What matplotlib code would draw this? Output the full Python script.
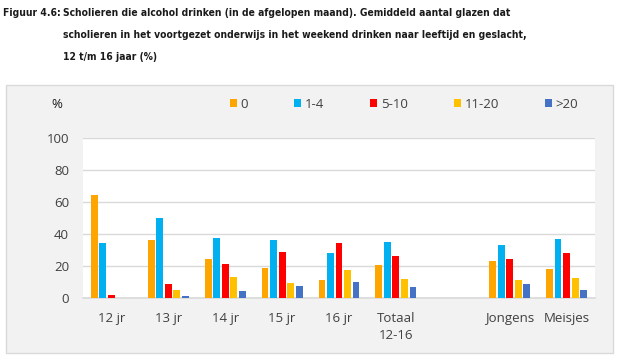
import numpy as np
import matplotlib.pyplot as plt
from matplotlib.patches import Rectangle, Patch

# data
categories = ['12 jr', '13 jr', '14 jr', '15 jr', '16 jr', 'Totaal\n12-16', '', 'Jongens', 'Meisjes']
series = ['0', '1-4', '5-10', '11-20', '>20']
colors = ['#FFA500', '#00B0F0', '#FF0000', '#FFC000', '#4472C4']

v_0 = [64.4, 36.2, 24.5, 18.6, 10.9, 20.7, np.nan, 23.2, 18.0]
v_1_4 = [34.1, 50.2, 37.4, 36.0, 28.0, 34.9, np.nan, 33.3, 36.6]
v_5_10 = [1.5, 8.4, 21.1, 28.5, 34.1, 25.9, np.nan, 24.1, 28.0]
v_11_20 = [0.0, 4.6, 13.2, 9.4, 17.2, 11.7, np.nan, 11.3, 12.6]
v_gt20 = [0.0, 1.0, 4.2, 7.5, 10.0, 6.7, np.nan, 8.4, 5.0]
values = [v_0, v_1_4, v_5_10, v_11_20, v_gt20]

yticks = [0, 20, 40, 60, 80, 100]

W, H = 620, 359
fig = plt.figure(figsize=(W / 100, H / 100), dpi=100)
fig.patch.set_facecolor('white')

# grey chart box
fig.patches.append(Rectangle((6 / W, 1 - 353 / H), 607 / W, 268 / H,
                             transform=fig.transFigure, facecolor='#F2F2F2',
                             edgecolor='#D9D9D9', linewidth=1, zorder=-5))

# title
tfont = dict(family='DejaVu Sans', fontstretch='condensed', fontsize=7.4,
             fontweight='bold', color='#1A1A1A', va='center')
fig.text(3 / W, 1 - 13 / H, 'Figuur 4.6:', **tfont)
fig.text(63 / W, 1 - 13 / H,
         'Scholieren die alcohol drinken (in de afgelopen maand). Gemiddeld aantal glazen dat', **tfont)
fig.text(63 / W, 1 - 35 / H,
         'scholieren in het voortgezet onderwijs in het weekend drinken naar leeftijd en geslacht,', **tfont)
fig.text(63 / W, 1 - 57 / H, '12 t/m 16 jaar (%)', **tfont)

ax = fig.add_axes([83 / W, 1 - 297.7 / H, 512 / W, 159.4 / H])
ax.set_facecolor('white')

x = np.arange(len(categories))
step, width = 0.15, 0.12
for i, (name, vals, col) in enumerate(zip(series, values, colors)):
    ax.bar(x + (i - 2) * step, vals, width, color=col, label=name, zorder=3)

ax.set_xlim(-0.5, len(categories) - 0.5)
ax.set_ylim(0, 100)
ax.set_yticks(yticks)
ax.set_xticks(x)
ax.set_xticklabels(categories)
ax.grid(axis='y', color='#D9D9D9', linewidth=1, zorder=0)
for s in ['left', 'right', 'top']:
    ax.spines[s].set_visible(False)
ax.spines['bottom'].set_color('#D9D9D9')
ax.spines['bottom'].set_linewidth(1.2)
ax.tick_params(length=0, labelsize=9.5, labelcolor='#404040')
ax.tick_params(axis='y', pad=10)
ax.tick_params(axis='x', pad=10)
for lab in ax.get_xticklabels() + ax.get_yticklabels():
    lab.set_family('Open Sans')
    lab.set_linespacing(1.45)

fig.text(57 / W, 1 - 104 / H, '%', family='Open Sans', fontsize=9.5,
         color='#1A1A1A', ha='center', va='center')

handles = [Patch(facecolor=c) for c in colors]
fig.legend(handles, series, loc='center left', bbox_to_anchor=(230 / W, 1 - 104 / H),
           ncol=5, frameon=False, borderpad=0, borderaxespad=0,
           handlelength=0.55, handleheight=0.55, handletextpad=0.25,
           columnspacing=3.5, prop={'family': 'Open Sans', 'size': 9.5},
           labelcolor='#404040')

fig.savefig('out.png', dpi=100)
